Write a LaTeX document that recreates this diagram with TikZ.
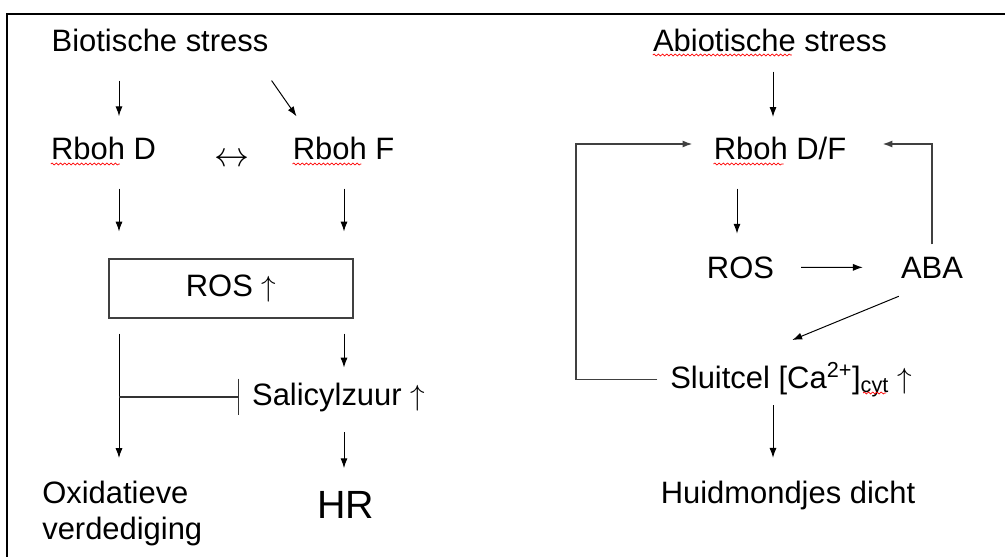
\documentclass[tikz,border=0pt]{standalone}
\usepackage{fontspec}
\setmainfont{Liberation Sans}
\usepackage{tikz}
\usetikzlibrary{arrows.meta,calc,decorations.pathmorphing}

\begin{document}
\begin{tikzpicture}[x=0.025cm,y=-0.025cm,>={Latex[length=7pt,width=5pt]}]
\tikzstyle{T}=[inner sep=0pt,font=\fontsize{22}{25.6}\selectfont]
\tikzstyle{A}=[->,line width=0.7pt]
\tikzstyle{G}=[line width=1.1pt,draw=black!75]
\tikzstyle{W}=[red,line width=0.5pt,decorate,decoration={snake,amplitude=0.7pt,segment length=3pt}]
\useasboundingbox (0,0) rectangle (1005,557);
\draw[line width=1.5pt] (1005,14.3) -- (7,14.3) -- (7,557);
% biotische stress
\node[T,anchor=base] (bio) at (160,52) {Biotische stress};
\node[T,anchor=base] (rbohD) at (103.5,160) {Rboh D};
\node[T,font=\fontsize{27}{30}\selectfont] (lr) at (231.5,160) {$\leftrightarrow$};
\node[T,anchor=base] (rbohF) at (343.5,160) {Rboh F};
\node[T,G,draw,minimum width=6.1cm,minimum height=1.475cm] (ros) at (231,288.5) {ROS $\uparrow$};
\node[T,anchor=base] (sa) at (338.5,405) {Salicylzuur $\uparrow$};
\node[T,anchor=north west,align=left] (oxd) at (42,480.5) {Oxidatieve\\verdediging};
\node[T,anchor=base,font=\fontsize{28}{32}\selectfont] (hr) at (346,518) {HR};
% abiotische stress
\node[T,anchor=base] (abio) at (770,52) {Abiotische stress};
\node[T,anchor=base] (rbohDF) at (780,160) {Rboh D/F};
\node[T,anchor=base] (ros2) at (740.5,278) {ROS};
\node[T,anchor=base] (aba) at (932,278) {ABA};
\node[T,anchor=base west] (ca) at (670,388) {Sluitcel [Ca\textsuperscript{2+}]\textsubscript{cyt} $\uparrow$};
\node[T,anchor=base] (stom) at (788,503) {Huidmondjes dicht};
\coordinate (cL) at (119,0);
\coordinate (cR) at (344,0);
\coordinate (cA) at (773,0);
\coordinate (cB) at (737,0);
\coordinate (fb) at (576,144);
% left arrows
\draw[A,shorten <=20pt,shorten >=15pt] (bio.south -| cL) -- (rbohD.north -| cL);
\draw[A] ($(bio.south east)+(3,28)$) -- ($(rbohF.north west)+(4,-21)$);
\draw[A,shorten <=20pt,shorten >=19pt] (rbohD.south -| cL) -- (ros.north -| cL);
\draw[A,shorten <=20pt,shorten >=19pt] (rbohF.south -| cR) -- (ros.north -| cR);
\draw[A,shorten <=10.5pt,shorten >=16pt] (ros.south -| cL) -- (oxd.north -| cL);
\draw[line width=0.8pt,draw=black!80,-{Bar[width=26pt]},shorten >=9pt] (cL |- sa.west) -- (sa.west);
\draw[A,shorten <=10.5pt,shorten >=10.5pt] (ros.south -| cR) -- (sa.north -| cR);
\draw[A,shorten <=14.5pt,shorten >=16pt] (sa.south -| cR) -- (hr.north -| cR);
% right arrows
\draw[A,shorten <=13.5pt,shorten >=14.5pt] (abio.south -| cA) -- (rbohDF.north -| cA);
\draw[A,shorten <=20pt,shorten >=16pt] (rbohDF.south -| cB) -- (ros2.north -| cB);
\draw[A,shorten <=19pt,shorten >=27pt] (ros2.east) -- (aba.west);
\draw[A] ($(aba.south west)+(-2,18)$) -- ($(ca.north)+(1,-22)$);
\draw[A,shorten <=5.7pt,shorten >=16pt] (ca.south -| cA) -- (stom.north -| cA);
\draw[G,->,shorten <=9pt,shorten >=15pt] (ca.west) -| (fb) -- (rbohDF.west |- fb);
\draw[G,->,shorten <=8.5pt,shorten >=25.6pt] (aba.north) |- (rbohDF.east |- fb);
% spelling marks
\draw[W] ($(rbohD.base west)+(0,4)$) -- ++(69,0);
\draw[W] ($(rbohF.base west)+(0,4)$) -- ++(69,0);
\draw[W] ($(rbohDF.base west)+(0,4)$) -- ++(70,0);
\draw[W] ($(abio.base west)+(0,3)$) -- ++(139,0);
\draw[W] ($(ca.base west)+(193,5)$) -- ++(23,0);
\end{tikzpicture}
\end{document}
